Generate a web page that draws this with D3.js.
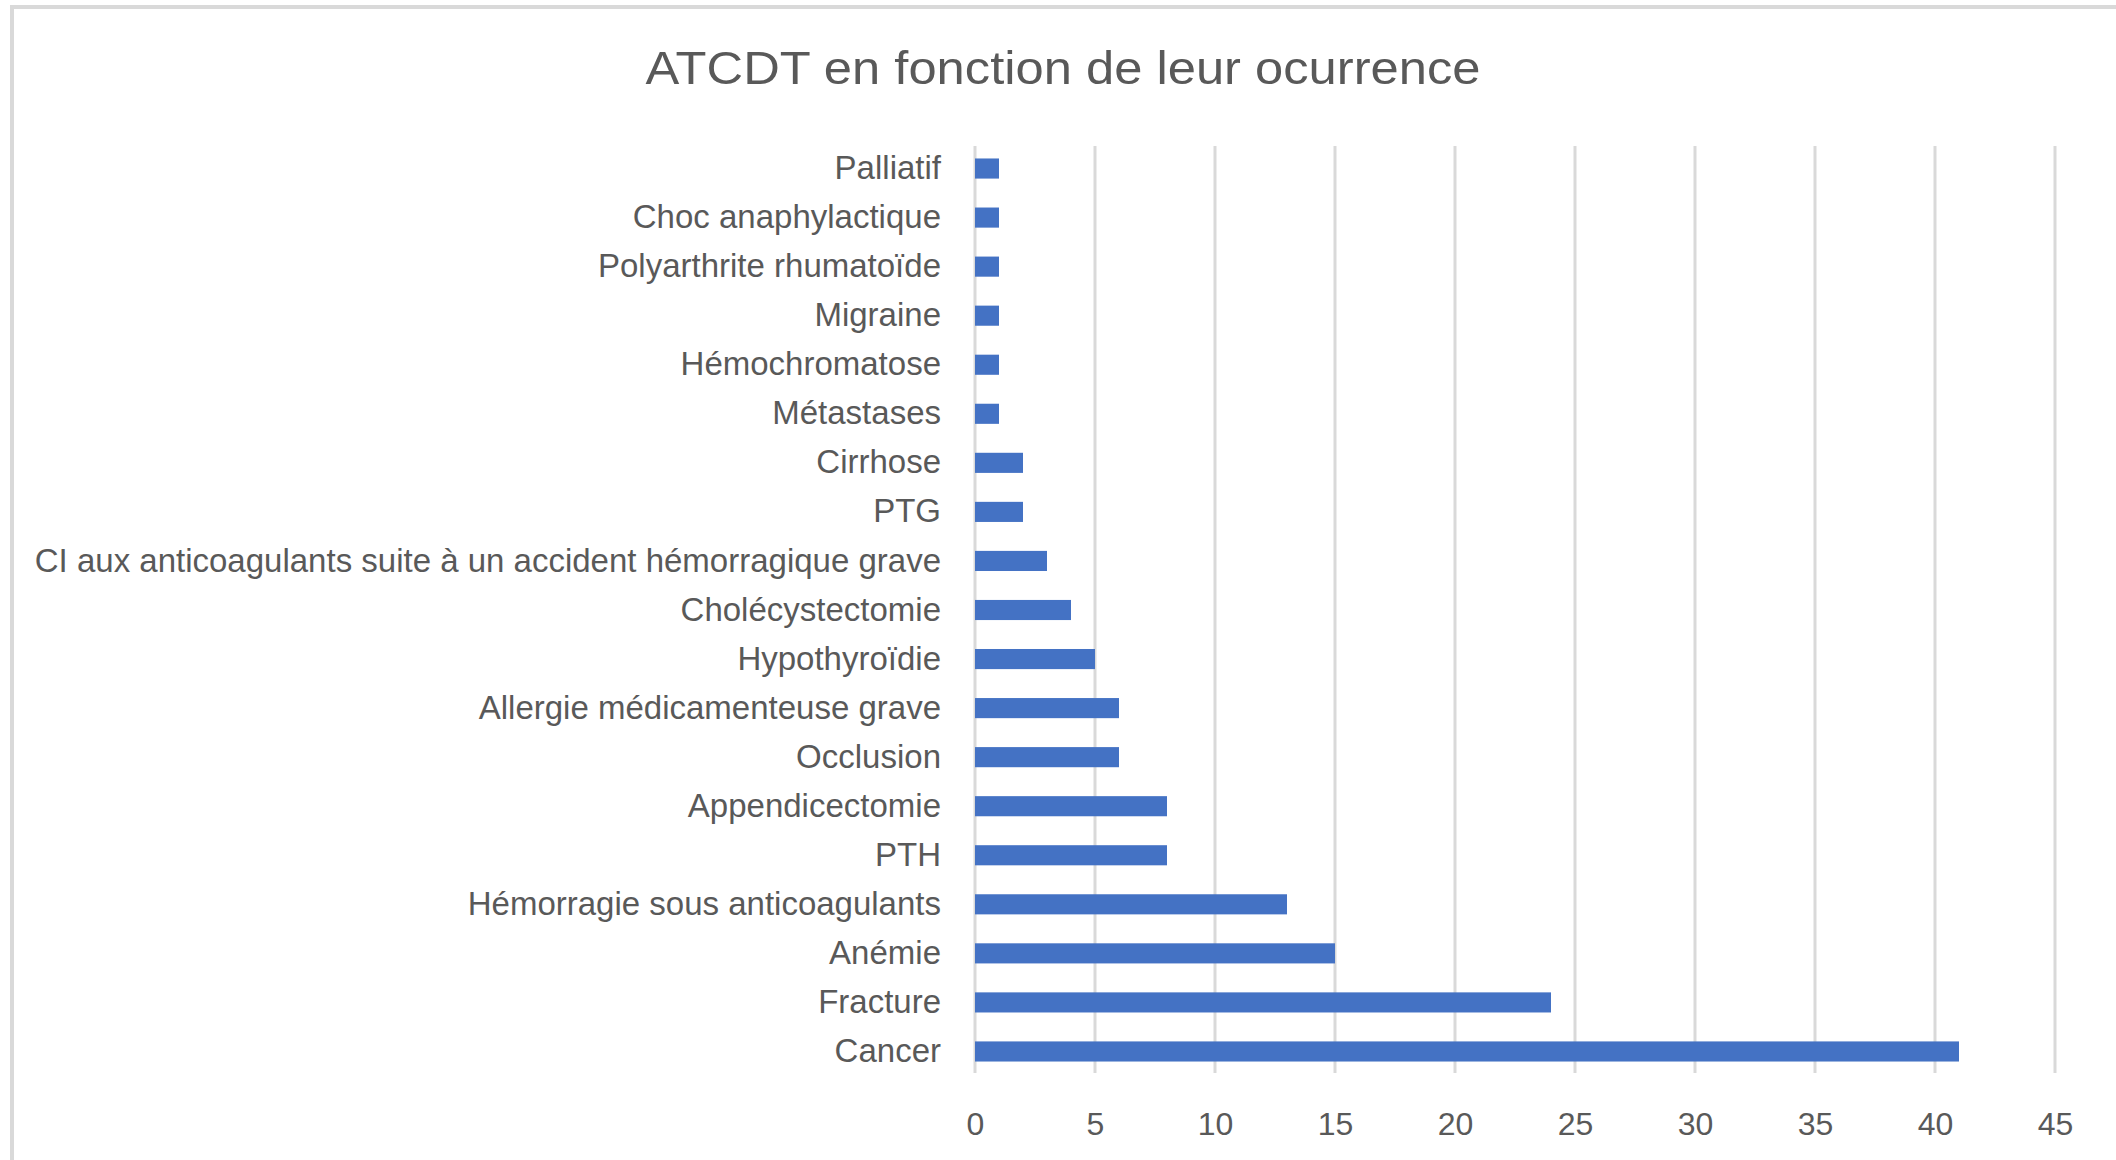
<!DOCTYPE html>
<html>
<head>
<meta charset="utf-8">
<script src="https://cdn.jsdelivr.net/npm/d3@7"></script>
<style>
  body { margin: 0; background: #fff; }
  text { font-family: "Liberation Sans", Arial, sans-serif; fill: #595959; }
</style>
</head>
<body>
<svg width="2116" height="1160"></svg>
<script>
// data, top row first
var categories = ["Palliatif", "Choc anaphylactique", "Polyarthrite rhumatoïde", "Migraine",
  "Hémochromatose", "Métastases", "Cirrhose", "PTG",
  "CI aux anticoagulants suite à un accident hémorragique grave", "Cholécystectomie",
  "Hypothyroïdie", "Allergie médicamenteuse grave", "Occlusion", "Appendicectomie", "PTH",
  "Hémorragie sous anticoagulants", "Anémie", "Fracture", "Cancer"];
var values = [1, 1, 1, 1, 1, 1, 2, 2, 3, 4, 5, 6, 6, 8, 8, 13, 15, 24, 41];
var xTicks = [0, 5, 10, 15, 20, 25, 30, 35, 40, 45];
var title = "ATCDT en fonction de leur ocurrence";

var svg = d3.select("svg");

// outer frame (runs off the right and bottom edge)
svg.append("rect")
  .attr("x", 12).attr("y", 7)
  .attr("width", 2200).attr("height", 1300)
  .attr("fill", "none")
  .attr("stroke", "#d9d9d9")
  .attr("stroke-width", 4);

var x = d3.scaleLinear().domain([0, 45]).range([975, 2055]);
var y = d3.scaleBand().domain(categories).range([144, 1076])
  .paddingInner(0.59).paddingOuter(0.295);

// gridlines
svg.append("g")
  .selectAll("line")
  .data(xTicks)
  .enter()
  .append("line")
    .attr("x1", function (d) { return x(d); })
    .attr("x2", function (d) { return x(d); })
    .attr("y1", 146).attr("y2", 1073)
    .attr("stroke", "#d9d9d9")
    .attr("stroke-width", 3);

// bars
svg.append("g")
  .selectAll("rect")
  .data(values)
  .enter()
  .append("rect")
    .attr("x", x(0))
    .attr("y", function (d, i) { return y(categories[i]); })
    .attr("width", function (d) { return x(d) - x(0); })
    .attr("height", y.bandwidth())
    .attr("fill", "#4472c4");

// x axis labels
var xAxis = svg.append("g")
  .attr("transform", "translate(0,1101)")
  .call(d3.axisBottom(x).tickValues(xTicks).tickSize(0).tickPadding(0));
xAxis.select(".domain").remove();
xAxis.selectAll("text")
  .attr("dy", null)
  .attr("y", 34)
  .style("font-size", "32px")
  .style("font-family", "'Liberation Sans', Arial, sans-serif")
  .attr("fill", "#595959");

// category labels
var yAxis = svg.append("g")
  .attr("transform", "translate(941,0)")
  .call(d3.axisLeft(y).tickSize(0).tickPadding(0));
yAxis.select(".domain").remove();
yAxis.selectAll("text")
  .style("font-size", "33px")
  .style("font-family", "'Liberation Sans', Arial, sans-serif")
  .attr("fill", "#595959")
  .each(function () {
    if (this.getComputedTextLength() > 907) {
      d3.select(this).attr("textLength", 907).attr("lengthAdjust", "spacingAndGlyphs");
    }
  });

// title
svg.append("text")
  .attr("x", 1063).attr("y", 84)
  .attr("text-anchor", "middle")
  .attr("textLength", 835)
  .attr("lengthAdjust", "spacingAndGlyphs")
  .style("font-size", "46px")
  .text(title);
</script>
</body>
</html>
